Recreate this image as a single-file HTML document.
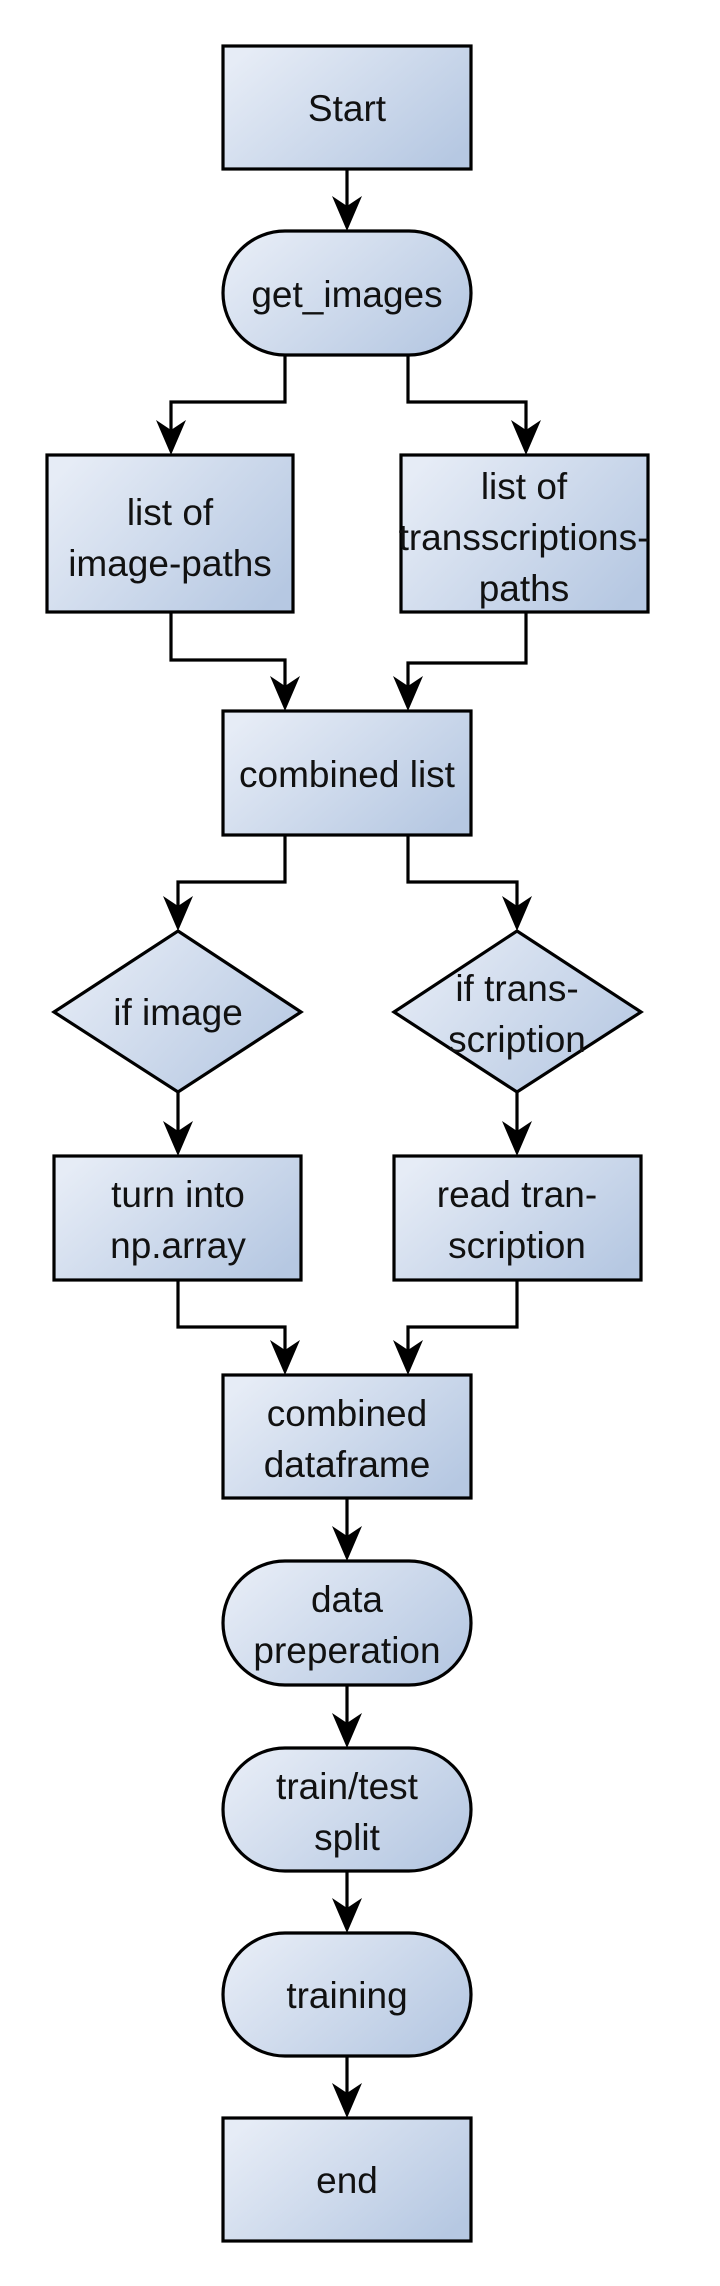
<!DOCTYPE html>
<html><head><meta charset="utf-8"><style>
html,body{margin:0;padding:0;background:#fff;}
svg{display:block;}
text{font-family:"Liberation Sans","DejaVu Sans",sans-serif;font-size:37px;fill:#111;text-anchor:middle;}
</style></head><body>
<svg width="720" height="2286" viewBox="0 0 720 2286" xmlns="http://www.w3.org/2000/svg">
<defs>
<linearGradient id="g" x1="0" y1="0.2" x2="1" y2="0.8" gradientUnits="objectBoundingBox">
<stop offset="0" stop-color="#e6ecf6"/><stop offset="1" stop-color="#b6c8e2"/>
</linearGradient>
<path id="ah" d="M0,0 L-15,-35 L0,-25 L15,-35 Z" fill="#000"/>
</defs>
<g fill="url(#g)" stroke="#000" stroke-width="3.2">
<rect x="223" y="46" width="248" height="123"/>
<rect x="223" y="231" width="248" height="124" rx="62"/>
<rect x="47" y="455" width="246" height="157"/>
<rect x="401" y="455" width="247" height="157"/>
<rect x="223" y="711" width="248" height="124"/>
<polygon points="178,931 301,1012 178,1092 54,1012"/>
<polygon points="517,931 641,1012 517,1092 394,1012"/>
<rect x="54" y="1156" width="247" height="124"/>
<rect x="394" y="1156" width="247" height="124"/>
<rect x="223" y="1375" width="248" height="123"/>
<rect x="223" y="1561" width="248" height="124" rx="62"/>
<rect x="223" y="1748" width="248" height="123" rx="62"/>
<rect x="223" y="1933" width="248" height="123" rx="62"/>
<rect x="223" y="2118" width="248" height="123"/>
</g>
<g fill="none" stroke="#000" stroke-width="3.2">
<path d="M347,169 V220"/>
<path d="M285,355 V402 H171 V440"/>
<path d="M408,355 V402 H526 V440"/>
<path d="M171,612 V660 H285 V696"/>
<path d="M526,612 V663 H408 V696"/>
<path d="M285,835 V882 H178 V916"/>
<path d="M408,835 V882 H517 V916"/>
<path d="M178,1092 V1141"/>
<path d="M517,1092 V1141"/>
<path d="M178,1280 V1327 H285 V1360"/>
<path d="M517,1280 V1327 H408 V1360"/>
<path d="M347,1498 V1546"/>
<path d="M347,1685 V1733"/>
<path d="M347,1871 V1918"/>
<path d="M347,2056 V2103"/>
</g>
<use href="#ah" x="347" y="231"/>
<use href="#ah" x="171" y="455"/>
<use href="#ah" x="526" y="455"/>
<use href="#ah" x="285" y="711"/>
<use href="#ah" x="408" y="711"/>
<use href="#ah" x="178" y="931"/>
<use href="#ah" x="517" y="931"/>
<use href="#ah" x="178" y="1156"/>
<use href="#ah" x="517" y="1156"/>
<use href="#ah" x="285" y="1375"/>
<use href="#ah" x="408" y="1375"/>
<use href="#ah" x="347" y="1561"/>
<use href="#ah" x="347" y="1748"/>
<use href="#ah" x="347" y="1933"/>
<use href="#ah" x="347" y="2118"/>
<text x="347" y="121">Start</text>
<text x="347" y="307">get_images</text>
<text x="170" y="525">list of</text>
<text x="170" y="576">image-paths</text>
<text x="524" y="499">list of</text>
<text x="524" y="550">transscriptions-</text>
<text x="524" y="601">paths</text>
<text x="347" y="787">combined list</text>
<text x="178" y="1025">if image</text>
<text x="517" y="1001">if trans-</text>
<text x="517" y="1052">scription</text>
<text x="178" y="1207">turn into</text>
<text x="178" y="1258">np.array</text>
<text x="517" y="1207">read tran-</text>
<text x="517" y="1258">scription</text>
<text x="347" y="1426">combined</text>
<text x="347" y="1477">dataframe</text>
<text x="347" y="1612">data</text>
<text x="347" y="1663">preperation</text>
<text x="347" y="1799">train/test</text>
<text x="347" y="1850">split</text>
<text x="347" y="2008">training</text>
<text x="347" y="2193">end</text>
</svg>
</body></html>
